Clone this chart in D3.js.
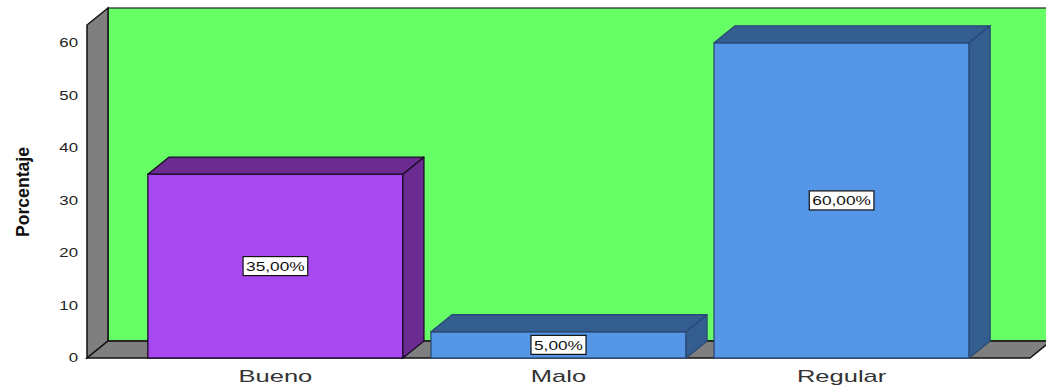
<!DOCTYPE html>
<html>
<head>
<meta charset="utf-8">
<script src="https://cdn.jsdelivr.net/npm/d3@7"></script>
<style>
  html, body { margin: 0; padding: 0; background: #ffffff; }
  svg { display: block; }
  text { font-family: "Liberation Sans", Arial, sans-serif; }
</style>
</head>
<body>
<svg id="chart" width="1046" height="388"></svg>
<script>
// Percentage of responses per rating category
const categories = ["Bueno", "Malo", "Regular"];
const values = [35, 5, 60];
const valueLabels = ["35,00%", "5,00%", "60,00%"];
const tickValues = [0, 10, 20, 30, 40, 50, 60];

const W = 1046, H = 388;
const svg = d3.select("#chart");

// 3D depth offset for walls and bar tops/sides
const dx = 21, dy = -17;

const x = d3.scaleBand()
  .domain(categories)
  .range([87, 1030])
  .paddingInner(0.099)
  .paddingOuter(0.215);

const y = d3.scaleLinear()
  .domain([0, 63.4])
  .range([358, 25]);

const frontColors = ["#a748f0", "#5596e6", "#5596e6"];
const shadeColors = ["#6a2c90", "#345d90", "#345d90"];
const edgeColors  = ["#1a0a24", "#2a4a75", "#2a4a75"];

// stretch text horizontally by a factor
function stretch(sel, f) {
  sel.each(function () {
    const len = this.getComputedTextLength();
    d3.select(this).attr("textLength", len * f).attr("lengthAdjust", "spacingAndGlyphs");
  });
}

const y0 = y(0), yTop = y(63.4);
const xL = x.range()[0], xR = x.range()[1];

// back wall
svg.append("rect")
  .attr("x", xL + dx).attr("y", yTop + dy)
  .attr("width", W + 10 - (xL + dx)).attr("height", (y0 + dy) - (yTop + dy))
  .attr("fill", "#66ff66").attr("stroke", "#222").attr("stroke-width", 1.2);

// left wall
svg.append("polygon")
  .attr("points", [[xL, yTop], [xL + dx, yTop + dy], [xL + dx, y0 + dy], [xL, y0]].map(p => p.join(",")).join(" "))
  .attr("fill", "#7f7f7f").attr("stroke", "#111").attr("stroke-width", 1.5);

// floor
svg.append("polygon")
  .attr("points", [[xL, y0], [xL + dx, y0 + dy], [xR + dx, y0 + dy], [xR, y0]].map(p => p.join(",")).join(" "))
  .attr("fill", "#7f7f7f").attr("stroke", "#111").attr("stroke-width", 1.5);

// y axis labels
const yAxis = d3.axisLeft(y).tickValues(tickValues).tickSize(0).tickPadding(9).tickFormat(d3.format("d"));
const ga = svg.append("g").attr("transform", `translate(${xL},0)`).call(yAxis);
ga.select(".domain").remove();
ga.selectAll("text")
  .attr("font-size", 12).attr("fill", "#222")
  .style("font-family", "'Liberation Sans', Arial, sans-serif")
  .call(stretch, 1.4);

// y title
svg.append("text")
  .attr("transform", "translate(29,192) rotate(-90)")
  .attr("text-anchor", "middle")
  .attr("font-size", 18.5).attr("font-weight", "bold").attr("fill", "#111")
  .text("Porcentaje")
  .attr("textLength", 90).attr("lengthAdjust", "spacingAndGlyphs");

// bars
const bars = svg.append("g").selectAll("g").data(categories).join("g");
bars.each(function (c, i) {
  const g = d3.select(this);
  const x0 = x(c), x1 = x(c) + x.bandwidth();
  const yv = y(values[i]);
  g.append("rect")
    .attr("x", x0).attr("y", yv).attr("width", x1 - x0).attr("height", y0 - yv)
    .attr("fill", frontColors[i]).attr("stroke", edgeColors[i]).attr("stroke-width", 1.3);
  g.append("polygon")
    .attr("points", [[x0, yv], [x0 + dx, yv + dy], [x1 + dx, yv + dy], [x1, yv]].map(p => p.join(",")).join(" "))
    .attr("fill", shadeColors[i]).attr("stroke", edgeColors[i]).attr("stroke-width", 1.3).attr("stroke-linejoin", "round");
  g.append("polygon")
    .attr("points", [[x1, yv], [x1 + dx, yv + dy], [x1 + dx, y0 + dy], [x1, y0]].map(p => p.join(",")).join(" "))
    .attr("fill", shadeColors[i]).attr("stroke", edgeColors[i]).attr("stroke-width", 1.3).attr("stroke-linejoin", "round");

  // value label box
  const cx = (x0 + x1) / 2, cy = (yv + y0) / 2;
  const t = g.append("text")
    .attr("x", cx).attr("y", cy + 5)
    .attr("text-anchor", "middle")
    .attr("font-size", 13).attr("fill", "#111")
    .text(valueLabels[i])
    .call(stretch, 1.33);
  const tw = +t.attr("textLength");
  g.insert("rect", "text")
    .attr("x", cx - tw / 2 - 3).attr("y", cy - 9.5)
    .attr("width", tw + 6).attr("height", 19)
    .attr("fill", "#ffffff").attr("stroke", "#111").attr("stroke-width", 1.2);
});

// category labels
svg.append("g").selectAll("text").data(categories).join("text")
  .attr("x", d => x(d) + x.bandwidth() / 2)
  .attr("y", 382)
  .attr("text-anchor", "middle")
  .attr("font-size", 17).attr("fill", "#333")
  .text(d => d)
  .call(stretch, 1.5);
</script>
</body>
</html>
